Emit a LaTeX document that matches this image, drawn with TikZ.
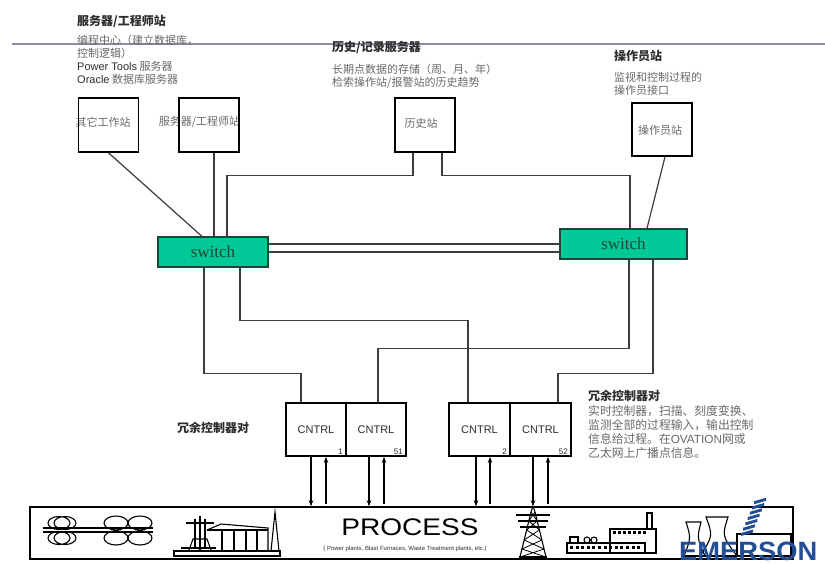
\documentclass[tikz,border=0pt]{standalone}
\usepackage{fontspec}
\setmainfont{Liberation Sans}
\newfontfamily\cjk{Noto Sans CJK SC}
\newfontfamily\latin{Liberation Sans}
\newfontfamily\timesfont{Liberation Serif}
\usetikzlibrary{arrows.meta,calc}
\definecolor{swgreen}{RGB}{0,200,150}
\definecolor{swedge}{RGB}{30,70,55}
\definecolor{rulegray}{RGB}{140,140,172}
\definecolor{txtgray}{RGB}{105,105,105}
\definecolor{darktxt}{RGB}{45,45,45}
\definecolor{wiregray}{RGB}{60,60,60}
\definecolor{emblue}{RGB}{35,78,150}
\tikzset{
  ttl/.style={anchor=west, inner sep=0, font=\cjk\bfseries\fontsize{12}{14}\selectfont, text=darktxt},
  dsc/.style={anchor=west, inner sep=0, font=\cjk\fontsize{11}{13}\selectfont, text=txtgray},
  lbl/.style={inner sep=0, font=\cjk\fontsize{11}{13}\selectfont, text=txtgray},
  stbox/.style={draw=black, line width=1.6, minimum width=60, minimum height=54, inner sep=0},
  swbox/.style={draw=swedge, fill=swgreen, line width=1.2, inner sep=0,
                font=\timesfont\fontsize{17}{17}\selectfont, text=swedge},
  cbox/.style={draw=black, line width=1.8, minimum width=60, minimum height=53, inner sep=0,
               font=\latin\fontsize{11}{11}\selectfont, text=darktxt},
  num/.style={inner sep=0, font=\latin\fontsize{8}{8}\selectfont, text=darktxt},
  wire/.style={draw=wiregray, line width=1.2},
  flow/.style={draw=black, line width=1.1, -{Stealth[length=6,width=4.5]}},
  icon/.style={draw=black, line width=1.1},
}
\begin{document}
\begin{tikzpicture}[x=1pt,y=-1pt]
\useasboundingbox (0,0) rectangle (825,563);
\fill[white] (0,0) rectangle (825,563);

% header rule
\draw[rulegray, line width=1.6] (12,44) -- (825,44);

% descriptions above the stations
\node[ttl] (tA) at (77,21) {服务器/工程师站};
\node[dsc] (dA1) at (77,40) {编程中心（建立数据库，};
\node[dsc] (dA2) at (77,53) {控制逻辑）};
\node[dsc] (dA3) at (77,66) {{\latin\color{darktxt}Power Tools} 服务器};
\node[dsc] (dA4) at (77,79) {{\latin\color{darktxt}Oracle} 数据库服务器};

\node[ttl] (tB) at (332,47) {历史/记录服务器};
\node[dsc] (dB1) at (332,69) {长期点数据的存储（周、月、年）};
\node[dsc] (dB2) at (332,83) {检索操作站/报警站的历史趋势};

\node[ttl] (tC) at (614,56) {操作员站};
\node[dsc] (dC1) at (614,77) {监视和控制过程的};
\node[dsc] (dC2) at (614,90) {操作员接口};

% stations
\node[lbl] (otherL) at (103,122) {其它工作站};
\node[lbl] (srvL) at (199.5,122) {服务器/工程师站};
\node[lbl] (histL) at (421,123) {历史站};
\node[lbl] (opL) at (660,130) {操作员站};
\node[stbox] (other) at (108.5,125) {};
\node[stbox] (srv) at (209,125) {};
\node[stbox] (hist) at (425,125) {};
\node[stbox, minimum height=53] (op) at (662,129.5) {};

% switches
\node[swbox, minimum width=110, minimum height=30] (swL) at (213,252) {switch};
\node[swbox, minimum width=127, minimum height=30] (swR) at (623.5,244) {switch};

% station links
\draw[wire] (other.south) -- ([xshift=-11]swL.north);
\draw[wire] ([xshift=5]srv.south) -- ([xshift=5]srv.south |- swL.north);
\draw[wire] ([xshift=-12]hist.south) -- ++(0,23) -| ([xshift=14]swL.north);
\draw[wire] ([xshift=17]hist.south) -- ++(0,23) -| ([xshift=6.5]swR.north);
\draw[wire] ([xshift=3]op.south) -- ([xshift=23.5]swR.north);

% trunk between the switches
\draw[wire] ([yshift=8]swL.east) -- (swR.west);
\draw[wire] (swL.east) -- ([yshift=-8]swR.west);

% controllers
\node[cbox] (c1) at (316,429.5) {CNTRL};
\node[cbox] (c51) at (376,429.5) {CNTRL};
\node[cbox, minimum width=61] (c2) at (479.5,429.5) {CNTRL};
\node[cbox, minimum width=61] (c52) at (540.5,429.5) {CNTRL};
\node[num, anchor=south east] (n1) at ([xshift=-4,yshift=2]c1.south east) {1};
\node[num, anchor=south east] (n51) at ([xshift=-4,yshift=2]c51.south east) {51};
\node[num, anchor=south east] (n2) at ([xshift=-4,yshift=2]c2.south east) {2};
\node[num, anchor=south east] (n52) at ([xshift=-4,yshift=2]c52.south east) {52};

% switch to controller links
\draw[wire] ([xshift=-9]swL.south) -- ++(0,106) -| ([xshift=-15]c1.north);
\draw[wire] ([xshift=27]swL.south) -- ++(0,53) -| ([xshift=-11.5]c2.north);
\draw[wire] ([xshift=5.5]swR.south) -- ++(0,89) -| ([xshift=2]c51.north);
\draw[wire] ([xshift=29.5]swR.south) -- ++(0,114) -| ([xshift=17.5]c52.north);

% controller notes
\node[ttl] (redL) at (177,428) {冗余控制器对};
\node[ttl] (redR) at (588,396) {冗余控制器对};
\node[dsc, font=\cjk\fontsize{11.8}{13}\selectfont] (r1) at (588,411) {实时控制器，扫描、刻度变换、};
\node[dsc, font=\cjk\fontsize{11.8}{13}\selectfont] (r2) at (588,425) {监测全部的过程输入，输出控制};
\node[dsc, font=\cjk\fontsize{11.8}{13}\selectfont] (r3) at (588,439) {信息给过程。在{\latin OVATION}网或};
\node[dsc, font=\cjk\fontsize{11.8}{13}\selectfont] (r4) at (588,453) {乙太网上广播点信息。};

% process
\node[draw=black, line width=1.5, minimum width=763, minimum height=52, inner sep=0] (proc) at (411.5,533) {};
\node[anchor=base, inner sep=0, font=\latin\fontsize{24}{24}\selectfont, text=black] (procT) at (410,535) {\scalebox{1.17}[1]{PROCESS}};
\node[anchor=base, inner sep=0, font=\latin\fontsize{6}{6}\selectfont, text=darktxt] (procS) at (405,550) {( Power plants, Blast Furnaces, Waste Treatment plants, etc.)};

% controller I/O
\draw[flow] ([xshift=-5]c1.south) -- ([xshift=-5]c1.south |- proc.north);
\draw[flow] ([xshift=10]c1.south |- proc.north) ++(0,-2) -- ([xshift=10]c1.south);
\draw[flow] ([xshift=-7]c51.south) -- ([xshift=-7]c51.south |- proc.north);
\draw[flow] ([xshift=8]c51.south |- proc.north) ++(0,-2) -- ([xshift=8]c51.south);
\draw[flow] ([xshift=-3.5]c2.south) -- ([xshift=-3.5]c2.south |- proc.north);
\draw[flow] ([xshift=10.5]c2.south |- proc.north) ++(0,-2) -- ([xshift=10.5]c2.south);
\draw[flow] ([xshift=-7.5]c52.south) -- ([xshift=-7.5]c52.south |- proc.north);
\draw[flow] ([xshift=7.5]c52.south |- proc.north) ++(0,-2) -- ([xshift=7.5]c52.south);

% rolling mill
\draw[icon] (43,528) -- (153,528) (43,532) -- (153,532);
\draw[icon] (59,523) ellipse (11 and 6.5) (65,523) ellipse (11 and 6.5);
\draw[icon] (59,538) ellipse (11 and 6.5) (65,538) ellipse (11 and 6.5);
\foreach \cx in {116,140}{
  \draw[icon] (\cx,523) ellipse (12 and 7) (\cx,538) ellipse (12 and 7);
}

% furnace plant
\draw[icon] (174,551) rectangle (280,556);
\draw[icon] (181,548) -- (216,548);
\draw[icon, line width=1.8] (200,516) -- (200,551);
\draw[icon] (195,519) -- (195,548) (205,519) -- (205,548);
\draw[icon] (189,550) -- (193,539) -- (207,539) -- (211,550);
\draw[icon] (186,523) -- (214,523);
\draw[icon] (207,530) -- (221,524) -- (268,528) -- (268,551);
\draw[icon] (207,530) -- (268,530);
\foreach \cx in {222,234,246,257}{ \draw[icon] (\cx,530) -- (\cx,551); }
\draw[icon] (271,551) -- (275,512) -- (279,551);

% transmission tower
\draw[icon] (533,506) -- (531,512) -- (520,557) (533,506) -- (535,512) -- (546,557);
\draw[icon] (516,515) -- (550,515) (518,521) -- (548,521) (520,527) -- (546,527);
\foreach \ya/\yb in {512/521,521/530,530/540,540/549,549/557}{
  \draw[icon, line width=0.8] ($(531,512)!{(\ya-512)/45}!(520,557)$) -- ($(535,512)!{(\yb-512)/45}!(546,557)$)
        ($(535,512)!{(\ya-512)/45}!(546,557)$) -- ($(531,512)!{(\yb-512)/45}!(520,557)$);
}
\draw[icon] (519,557) -- (547,557);

% factory
\draw[icon] (567,543) rectangle (645,553);
\foreach \i in {0,...,12}{ \fill (570+\i*5.6,546) rectangle ++(3,3); }
\draw[icon] (610,529) rectangle (656,553);
\foreach \i in {0,...,6}{ \fill (613+\i*5,531) rectangle ++(3,3); }
\draw[icon] (647,513) rectangle (652,529);
\draw[icon] (570,537) rectangle (578,543);
\draw[icon] (587,540) circle (3) (594,540) circle (3);
\draw[icon] (583,543) -- (600,543);

% power plant with cooling towers
\draw[icon] (684,556) .. controls (691,538) .. (686,522) -- (701,522) .. controls (697,538) .. (705,556);
\draw[icon] (700,556) .. controls (713,536) .. (706,517) -- (728,517) .. controls (722,536) .. (737,556);
\draw[icon] (737,534) rectangle (791,556);
\draw[icon] (683,556) -- (792,556);

% logo
\foreach \i in {0,...,6}{
  \fill[emblue] ($(741,533)+(\i*2.2,-\i*5.3)$) -- ++(12,-3.5) -- ++(0,3) -- ++(-12,3.5) -- cycle;
}
\node[anchor=base west, inner sep=0, font=\latin\bfseries\fontsize{26.5}{27}\selectfont, text=emblue] (emer) at (679,560) {\scalebox{1.03}[1]{EMERSON}};
\end{tikzpicture}
\end{document}
